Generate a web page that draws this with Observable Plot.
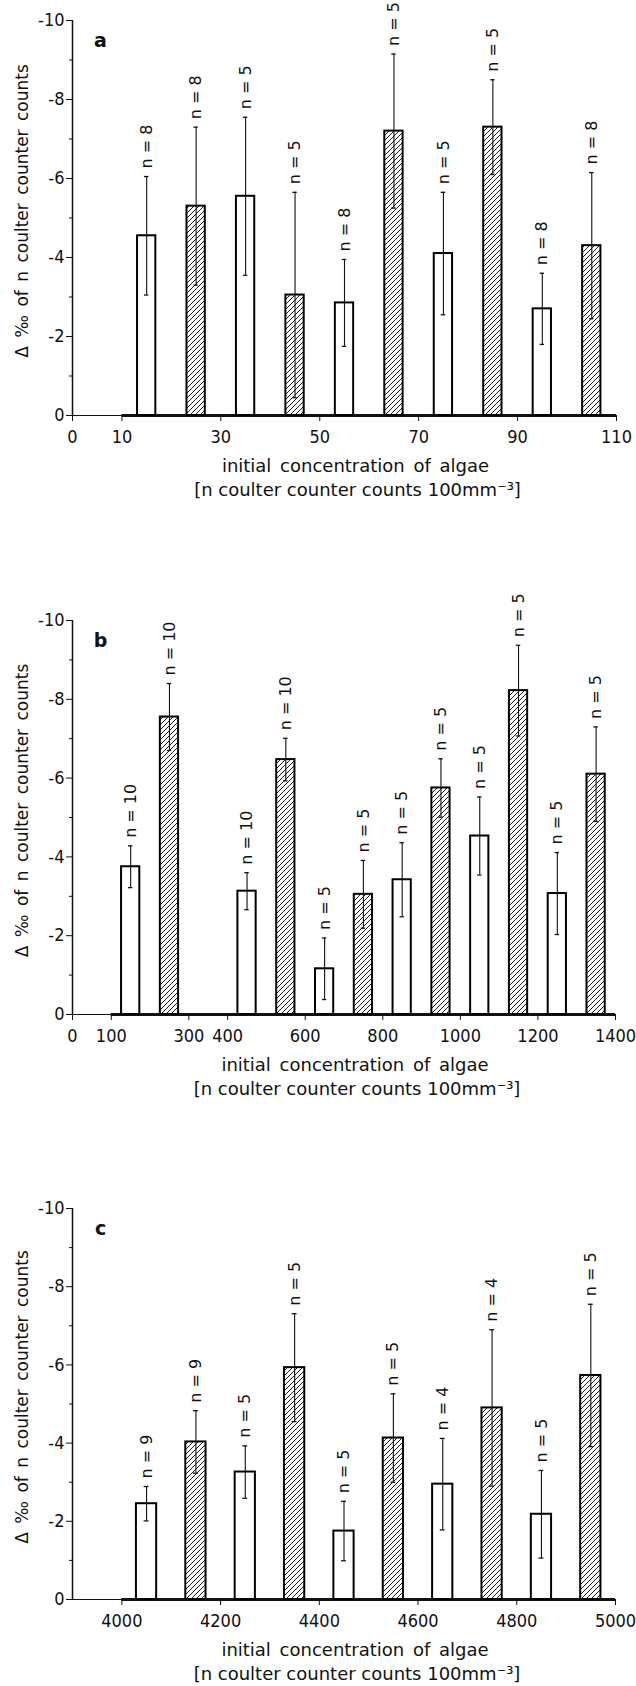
<!DOCTYPE html>
<html>
<head>
<meta charset="utf-8">
<script src="https://cdn.jsdelivr.net/npm/d3@7"></script>
<script src="https://cdn.jsdelivr.net/npm/@observablehq/plot@0.6"></script>
<style>
  body { margin: 0; background: #fff; }
  #chart { width: 636px; }
  #chart svg { display: block; }
  .ticklabels text { font-family: 'DejaVu Sans Condensed', 'DejaVu Sans', sans-serif; font-stretch: condensed; }
</style>
</head>
<body>
<div id="chart"></div>
<script>
// Panel a: 10-unit concentration classes
const aCenters = [15, 25, 35, 45, 55, 65, 75, 85, 95, 105];
const aMeans   = [-4.55, -5.3, -5.55, -3.05, -2.85, -7.2, -4.1, -7.3, -2.7, -4.3];
const aErrors  = [1.5, 2.0, 2.0, 2.6, 1.1, 1.95, 1.55, 1.2, 0.9, 1.85];
const aN       = [8, 8, 5, 5, 8, 5, 5, 5, 8, 8];
const aHatched = [false, true, false, true, false, true, false, true, false, true];
const aTicks   = [0, 10, 30, 50, 70, 90, 110];

// Panel b: 100-unit concentration classes
const bCenters = [150, 250, 450, 550, 650, 750, 850, 950, 1050, 1150, 1250, 1350];
const bMeans   = [-3.75, -7.55, -3.13, -6.47, -1.16, -3.05, -3.42, -5.75, -4.53, -8.22, -3.07, -6.1];
const bErrors  = [0.53, 0.85, 0.47, 0.54, 0.78, 0.86, 0.94, 0.74, 0.99, 1.15, 1.04, 1.2];
const bN       = [10, 10, 10, 10, 5, 5, 5, 5, 5, 5, 5, 5];
const bHatched = [false, true, false, true, false, true, false, true, false, true, false, true];
const bTicks   = [0, 100, 300, 400, 600, 800, 1000, 1200, 1400];

// Panel c: 100-unit classes at high concentration
const cCenters = [4050, 4150, 4250, 4350, 4450, 4550, 4650, 4750, 4850, 4950];
const cMeans   = [-2.45, -4.03, -3.26, -5.93, -1.75, -4.13, -2.95, -4.9, -2.18, -5.73];
const cErrors  = [0.44, 0.8, 0.67, 1.38, 0.76, 1.13, 1.17, 2.0, 1.12, 1.82];
const cN       = [9, 9, 5, 5, 5, 5, 4, 4, 5, 5];
const cHatched = [false, true, false, true, false, true, false, true, false, true];
const cTicks   = [4000, 4200, 4400, 4600, 4800, 5000];

const yMajor = [-10, -8, -6, -4, -2, 0];
const yMinor = [-9, -7, -5, -3, -1];

const yLabel  = "Δ ‰ of n coulter counter counts";
const xLabel1 = "initial concentration of algae";
const xLabel2 = "[n coulter counter counts 100mm⁻³]";

const FONT = "'DejaVu Sans', 'Liberation Sans', sans-serif";

const panels = [
  {letter: "a", centers: aCenters, means: aMeans, errors: aErrors, ns: aN, hatched: aHatched,
   ticks: aTicks, domain: [0, 110], baseStart: 10, barWidth: 3.7,
   height: 530, marginTop: 20, marginBottom: 115, marginRight: 20},
  {letter: "b", centers: bCenters, means: bMeans, errors: bErrors, ns: bN, hatched: bHatched,
   ticks: bTicks, domain: [0, 1400], baseStart: 100, barWidth: 47,
   height: 600, marginTop: 90, marginBottom: 116, marginRight: 21},
  {letter: "c", centers: cCenters, means: cMeans, errors: cErrors, ns: cN, hatched: cHatched,
   ticks: cTicks, domain: [3900, 5000], baseStart: 4000, barWidth: 41,
   height: 556, marginTop: 78, marginBottom: 87, marginRight: 21}
];

function addHatch(svg) {
  const ns = "http://www.w3.org/2000/svg";
  const defs = document.createElementNS(ns, "defs");
  defs.innerHTML =
    '<pattern id="hatch" patternUnits="userSpaceOnUse" width="5" height="5">' +
    '<rect width="5" height="5" fill="white"/>' +
    '<path d="M-1,1 l2,-2 M0,5 l5,-5 M4,6 l2,-2" stroke="black" stroke-width="0.9"/>' +
    '</pattern>';
  svg.prepend(defs);
}

function makePanel(p) {
  const rows = p.centers.map((c, i) => ({
    c, m: p.means[i], e: p.errors[i], n: p.ns[i], h: p.hatched[i]
  }));
  const hw = p.barWidth / 2;
  const cap = p.barWidth * 0.12;
  const [x0, x1] = p.domain;
  const barOpts = {
    x1: d => d.c - hw, x2: d => d.c + hw, y1: 0, y2: "m",
    stroke: "black", strokeWidth: 2
  };
  const svg = Plot.plot({
    width: 636,
    height: p.height,
    marginTop: p.marginTop,
    marginBottom: p.marginBottom,
    marginLeft: 72,
    marginRight: p.marginRight,
    style: {fontFamily: FONT, fontSize: "18px", color: "#111", background: "white"},
    x: {domain: p.domain},
    y: {domain: [0, -10]},
    marks: [
      // baseline: thin over the empty start, heavy under the classes
      Plot.ruleY([0], {x1: x0, x2: x1, strokeWidth: 1.2}),
      Plot.ruleY([0], {x1: p.baseStart, x2: x1, strokeWidth: 3}),
      // open and hatched bars
      Plot.rect(rows.filter(d => !d.h), {...barOpts, fill: "white"}),
      Plot.rect(rows.filter(d => d.h), {...barOpts, fill: "url(#hatch)"}),
      // error bars with caps
      Plot.ruleX(rows, {x: "c", y1: d => d.m + d.e, y2: d => d.m - d.e, strokeWidth: 1.1}),
      Plot.ruleY(rows, {y: d => d.m - d.e, x1: d => d.c - cap, x2: d => d.c + cap, strokeWidth: 1.3}),
      Plot.ruleY(rows, {y: d => d.m + d.e, x1: d => d.c - cap, x2: d => d.c + cap, strokeWidth: 1.3}),
      // sample sizes above each bar
      Plot.text(rows, {
        x: "c", y: d => d.m - d.e, text: d => `n = ${d.n}`,
        rotate: -90, textAnchor: "start", lineAnchor: "middle", dy: -8, fontSize: 16
      }),
      // y axis line and ticks
      Plot.ruleX([x0], {y1: 0, y2: -10, strokeWidth: 1.5}),
      Plot.axisY({ticks: yMajor, tickSize: 6, tickPadding: 2, tickFormat: d => String(d),
                  label: null, fontSize: 18, className: "ticklabels"}),
      Plot.axisY({ticks: yMinor, tickSize: 3, tickFormat: () => "", label: null}),
      // x axis ticks
      Plot.axisX({ticks: p.ticks, tickSize: 6, tickPadding: 9, tickFormat: d => String(d),
                  label: null, fontSize: 18, className: "ticklabels"}),
      // panel letter
      Plot.text([p.letter], {frameAnchor: "top-left", textAnchor: "middle", lineAnchor: "middle",
                             dx: 28, dy: 20, fontWeight: "bold", fontSize: 19}),
      // axis titles
      Plot.text([yLabel], {frameAnchor: "left", rotate: -90, textAnchor: "middle", lineAnchor: "middle",
                           dx: -50, dy: -7, fontSize: 17}),
      Plot.text([xLabel1], {frameAnchor: "bottom", textAnchor: "middle", lineAnchor: "middle",
                            dx: 11, dy: 51, fontSize: 18}),
      Plot.text([xLabel2], {frameAnchor: "bottom", textAnchor: "middle", lineAnchor: "middle",
                            dx: 13, dy: 75, fontSize: 18})
    ]
  });
  addHatch(svg);
  svg.querySelectorAll("text").forEach(t => {
    if (t.textContent === yLabel) t.style.wordSpacing = "3px";
    if (t.textContent === xLabel1) t.style.wordSpacing = "3px";
  });
  return svg;
}

const chart = document.getElementById("chart");
panels.forEach(p => chart.appendChild(makePanel(p)));
</script>
</body>
</html>
